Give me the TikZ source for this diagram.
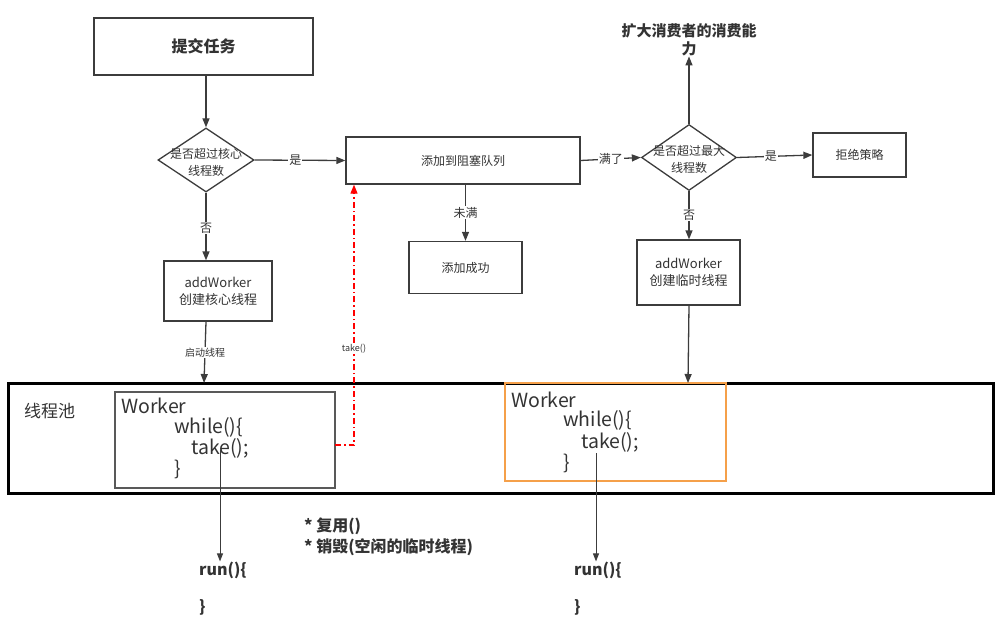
\documentclass[tikz,border=0pt]{standalone}
\usepackage{fontspec}
\setmainfont{Noto Sans CJK SC}
\usetikzlibrary{arrows.meta,shapes.geometric}
\definecolor{ink}{HTML}{333333}
\definecolor{edge}{HTML}{3C3C3C}
\definecolor{orng}{HTML}{F5A04A}
\begin{document}
\begin{tikzpicture}[x=1pt,y=-1pt,
  every node/.style={text=ink,inner sep=0pt},
  box/.style={draw=edge,line width=1.3pt,fill=white},
  dia/.style={draw=edge,line width=1.3pt,diamond,shape aspect=1.5},
  arr/.style={draw=edge,line width=1.3pt,-{Triangle[length=9pt,width=7pt]}},
  thinarr/.style={draw=edge,line width=0.9pt,-{Triangle[length=8pt,width=6pt]}},
  lbl/.style={fill=white,inner sep=1pt,font=\fontsize{12}{14}\selectfont},
  txt/.style={font=\fontsize{12}{17}\selectfont,align=center},
  code/.style={anchor=west,font=\fontsize{19.5}{22}\selectfont}]
\useasboundingbox (0,0) rectangle (1004,623);
% top boxes
\node[box,minimum width=219pt,minimum height=57pt,font=\fontsize{16}{18}\selectfont\bfseries] (task) at (203.5,46.5) {提交任务};
\node[dia,minimum width=96pt,minimum height=64pt] (d1) at (206,160) {};
\node[txt] (d1t) at (206,162) {是否超过核心\\线程数};
\node[box,minimum width=234pt,minimum height=47pt,font=\fontsize{12}{14}\selectfont] (queue) at (463,160.5) {添加到阻塞队列};
\node[box,minimum width=113pt,minimum height=52pt,font=\fontsize{12}{14}\selectfont] (ok) at (465.5,267.5) {添加成功};
\node[dia,minimum width=95pt,minimum height=66pt] (d2) at (689,157.5) {};
\node[txt] (d2t) at (689,159) {是否超过最大\\线程数};
\node[box,minimum width=93pt,minimum height=44pt,font=\fontsize{12}{14}\selectfont] (reject) at (859.5,155) {拒绝策略};
\node[box,minimum width=103pt,minimum height=65pt,txt,font=\fontsize{13}{17}\selectfont] (aw2) at (688.5,272.5) {addWorker\\创建临时线程};
\node[box,minimum width=108pt,minimum height=60pt,txt,font=\fontsize{13}{17}\selectfont] (aw1) at (218,291) {addWorker\\创建核心线程};
\node[font=\fontsize{15}{18}\selectfont\bfseries,align=center] (expand) at (689,40) {扩大消费者的消费能\\力};
% pool
\draw[line width=3pt,black] (8,383) rectangle (993,493);
\node[anchor=west,font=\fontsize{17}{19}\selectfont] (poollbl) at (24,411) {线程池};
\coordinate (pooltop1) at (204,383);
\coordinate (pooltop2) at (688,383);
% workers
\draw[draw=gray!70!black,line width=1.3pt] (115,392) rectangle (335,488);
\coordinate (w1e) at (335,445);
\node[code] (w1a) at (121,406) {Worker};
\node[code] (w1b) at (174,427) {while()\{};
\node[code] (w1c) at (191,448) {take();};
\node[code] (w1d) at (174,469) {\}};
\draw[draw=orng,line width=1.5pt] (505,383) rectangle (726,481);
\node[code] (w2a) at (511,400) {Worker};
\node[code] (w2b) at (563,420) {while()\{};
\node[code] (w2c) at (581,442) {take();};
\node[code] (w2d) at (563,463) {\}};
% run blocks
\node[anchor=west,font=\fontsize{16}{18}\selectfont\bfseries] (run1) at (199,570) {run()\{};
\node[anchor=west,font=\fontsize{16}{18}\selectfont\bfseries] (run1e) at (199,607) {\}};
\node[anchor=west,font=\fontsize{16}{18}\selectfont\bfseries] (run2) at (574,570) {run()\{};
\node[anchor=west,font=\fontsize{16}{18}\selectfont\bfseries] (run2e) at (574,607) {\}};
\node[anchor=west,font=\fontsize{16}{21}\selectfont\bfseries,align=left] (notes) at (304,537) {* 复用()\\* 销毁(空闲的临时线程)};
\coordinate (t1) at (220,450);
\coordinate (t2) at (596,453);
% connectors
\draw[arr] (task.south -| d1.north) -- (d1.north);
\draw[arr] (d1.east) -- node[lbl,pos=0.45] {是} (queue.west);
\draw[arr] (d1.south) -- node[lbl,pos=0.52] {否} (d1.south |- aw1.north);
\draw[arr] (aw1.south -| d1.south) -- node[lbl,font=\fontsize{10}{12}\selectfont] {启动线程} (pooltop1);
\draw[arr] (queue.south -| ok.north) -- node[lbl] {未满} (ok.north);
\draw[arr] (queue.east) -- node[lbl,pos=0.5] {满了} (d2.west);
\draw[arr] (d2.east) -- node[lbl,pos=0.45] {是} (reject.west);
\draw[arr] (d2.north) -- (expand.south -| d2.north);
\draw[arr] (d2.south) -- node[lbl] {否} (aw2.north -| d2.south);
\draw[arr] (aw2.south -| d2.south) -- (pooltop2);
\draw[red,line width=1.1pt,dash pattern=on 6pt off 3pt on 1.5pt off 3pt,-{Triangle[length=9pt,width=7pt]}]
  (w1e) -- (w1e -| 354,0) -- node[pos=0.37,fill=white,inner sep=1pt,text=ink,font=\fontsize{9}{11}\selectfont] {take()} (queue.south west -| 354,0);
\draw[thinarr] (t1) -- (t1 |- run1.north);
\draw[thinarr] (t2) -- (t2 |- run2.north);
\end{tikzpicture}
\end{document}
